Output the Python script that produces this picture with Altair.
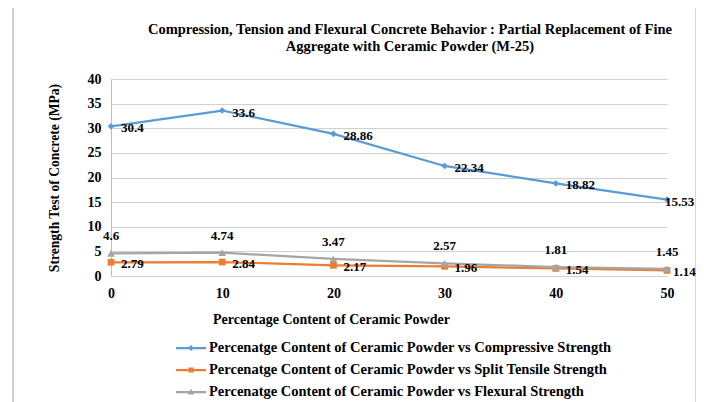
import altair as alt
import pandas as pd

pct = [0, 10, 20, 30, 40, 50]
compressive = [30.4, 33.6, 28.86, 22.34, 18.82, 15.53]
tensile = [2.79, 2.84, 2.17, 1.96, 1.54, 1.14]
flexural = [4.6, 4.74, 3.47, 2.57, 1.81, 1.45]
series_names = [
    "Percenatge Content of Ceramic Powder vs Compressive Strength",
    "Percenatge Content of Ceramic Powder vs Split Tensile Strength",
    "Percenatge Content of Ceramic Powder vs Flexural Strength",
]
colors = ["#5B9BD5", "#ED7D31", "#A5A5A5"]
y_ticks = [0, 5, 10, 15, 20, 25, 30, 35, 40]
x_ticks = [0, 10, 20, 30, 40, 50]
title_lines = [
    "Compression, Tension and Flexural Concrete Behavior : Partial Replacement of Fine",
    "Aggregate with Ceramic Powder (M-25)",
]
x_title = "Percentage Content of Ceramic Powder"
y_title = "Strength Test of Concrete (MPa)"

rows = []
for name, vals in zip(series_names, [compressive, tensile, flexural]):
    for p, v in zip(pct, vals):
        rows.append({"pct": p, "value": v, "series": name, "label": str(v)})
df = pd.DataFrame(rows)

FONT = "Liberation Serif"
W, H = 556, 197

x_enc = alt.X(
    "pct:Q",
    scale=alt.Scale(domain=[0, 50], nice=False),
    axis=alt.Axis(
        values=x_ticks, format="d", title=x_title, grid=False, domain=False, ticks=False,
        labelFlush=False, labelPadding=10, labelFontSize=14, labelFont=FONT,
        labelFontWeight="bold", labelColor="black", titleFontSize=14, titleFont=FONT,
        titleFontWeight="bold", titleColor="black", titleX=220, titleY=47,
        titleAlign="center", titleBaseline="alphabetic",
    ),
)
y_enc = alt.Y(
    "value:Q",
    scale=alt.Scale(domain=[0, 40], nice=False),
    axis=alt.Axis(
        values=y_ticks, format="d", title=y_title, grid=True, gridColor="#D0D0D0",
        domain=True, domainColor="#BFBFBF", ticks=False, labelPadding=10,
        labelFlush=False, labelFontSize=14, labelFont=FONT, labelFontWeight="bold",
        labelColor="black", titleFontSize=13.6, titleFont=FONT, titleFontWeight="bold",
        titleColor="black", titleX=-53, titleY=98.5, titleAngle=270,
        titleAlign="center", titleBaseline="alphabetic",
    ),
)

base = alt.Chart(df)

border = alt.Chart(pd.DataFrame({"b": [0]})).mark_rect(
    fillOpacity=0, stroke="#A6A6A6", strokeWidth=1
).encode(x=alt.value(-98), x2=alt.value(585), y=alt.value(-72), y2=alt.value(330))

layers = [border]
shapes = ["diamond", "square", "triangle-up"]
sizes = [45, 45, 60]
for name, col, shp, sz in zip(series_names, colors, shapes, sizes):
    sub = base.transform_filter(alt.FieldEqualPredicate(field="series", equal=name))
    layers.append(sub.mark_line(color=col, strokeWidth=2.25).encode(x=x_enc, y=y_enc))
    layers.append(
        sub.mark_point(shape=shp, filled=True, color=col, size=sz, opacity=1).encode(x=x_enc, y=y_enc)
    )

lab_style = dict(font=FONT, fontSize=13, fontWeight="bold", color="black", baseline="middle")


def lab(name, pred, **kw):
    return (
        base.transform_filter(alt.FieldEqualPredicate(field="series", equal=name))
        .transform_filter(pred)
        .mark_text(**lab_style, **kw)
        .encode(x=x_enc, y=y_enc, text="label:N")
    )


layers.append(lab(series_names[0], alt.datum.pct < 50, align="left", dx=10, dy=2))
layers.append(lab(series_names[0], alt.datum.pct == 50, align="left", dx=-2, dy=2))
layers.append(lab(series_names[1], alt.datum.pct < 50, align="left", dx=10, dy=2))
layers.append(lab(series_names[1], alt.datum.pct == 50, align="left", dx=6, dy=2))
layers.append(lab(series_names[2], alt.datum.pct >= 0, align="center", dy=-17))

paths = [
    "M-1,-0.075H1V0.075H-1Z M0,-0.2L0.2,0L0,0.2L-0.2,0Z",
    "M-1,-0.075H1V0.075H-1Z M-0.17,-0.17H0.17V0.17H-0.17Z",
    "M-1,-0.075H1V0.075H-1Z M0,-0.22L0.22,0.17L-0.22,0.17Z",
]
leg_props = dict(
    orient="none", legendX=65, legendY=258, title=None, symbolSize=900,
    symbolOpacity=1, clipHeight=22, labelFont=FONT, labelFontSize=14.5,
    labelFontWeight="bold", labelColor="black", labelOffset=3, rowPadding=0,
    labelLimit=0, symbolStrokeWidth=0,
)
legend_layer = base.mark_point(filled=True, opacity=0).encode(
    x=x_enc,
    y=y_enc,
    color=alt.Color("series:N", scale=alt.Scale(domain=series_names, range=colors),
                    legend=alt.Legend(**leg_props)),
    shape=alt.Shape("series:N", scale=alt.Scale(domain=series_names, range=paths),
                    legend=alt.Legend(**leg_props)),
)
layers.append(legend_layer)

chart = (
    alt.layer(*layers)
    .properties(
        width=W,
        height=H,
        autosize=alt.AutoSizeParams(type="none"),
        padding={"left": 103, "top": 71, "right": 29, "bottom": 126},
        background="white",
        title=alt.TitleParams(
            text=title_lines, font=FONT, fontSize=14.5, fontWeight="bold", color="black",
            anchor="middle", dx=21, offset=-48, lineHeight=17,
        ),
    )
    .configure_view(strokeWidth=0)
)

chart.save("out.html", embed_options={"renderer": "svg", "actions": False})
